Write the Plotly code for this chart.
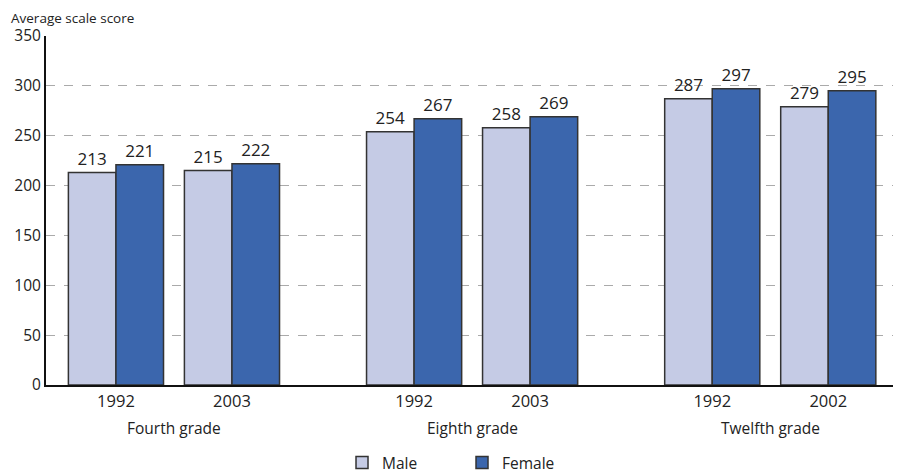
import plotly.graph_objects as go

grades = ["Fourth grade", "Eighth grade", "Twelfth grade"]
years = [["1992", "2003"], ["1992", "2003"], ["1992", "2002"]]
male = [213, 215, 254, 258, 287, 279]
female = [221, 222, 267, 269, 297, 295]

# page body adds an 8px offset; size figure so it fills the 901x475 window
OFF = 8
W, H = 901 - OFF, 475 - OFF
ML, MR, MT, MB = 46 - OFF, 0, 36 - OFF, 90
PH = H - MT - MB


def py(pix):
    """convert window pixel y (from top) to paper coordinate"""
    return (H - MB - (pix - OFF)) / PH


GRADE_STEP = 2.57
xs, ticktext = [], []
for g, yrs in enumerate(years):
    for j, yr in enumerate(yrs):
        xs.append(g * GRADE_STEP + j)
        ticktext.append(yr)

font = "Open Sans"
fig = go.Figure()
fig.add_bar(x=xs, y=male, name="Male", marker=dict(color="#C5CBE5", line=dict(color="#333333", width=1.5)),
            text=[str(v) for v in male], textposition="outside", cliponaxis=False,
            textfont=dict(size=17, color="#222222"))
fig.add_bar(x=xs, y=female, name="Female", marker=dict(color="#3B66AD", line=dict(color="#333333", width=1.5)),
            text=[str(v) for v in female], textposition="outside", cliponaxis=False,
            textfont=dict(size=17, color="#222222"))

for g, name in enumerate(grades):
    fig.add_annotation(x=g * GRADE_STEP + 0.5, y=py(428), xref="x", yref="paper", text=name,
                       showarrow=False, font=dict(size=15.5, color="#222222"), yanchor="middle")

fig.add_annotation(x=0, y=py(OFF), xref="paper", yref="paper", xshift=-(ML - 2),
                   text="Average scale score", showarrow=False, xanchor="left", yanchor="top",
                   font=dict(size=13.5, color="#222222"), borderpad=0)

fig.update_layout(
    width=W, height=H, barmode="group", bargap=0.18, bargroupgap=0,
    margin=dict(l=ML, r=MR, t=MT, b=MB),
    plot_bgcolor="white", paper_bgcolor="white",
    font=dict(family=font, color="#222222"),
    showlegend=True,
    legend=dict(orientation="h", x=0.5 - 12 / W, xanchor="center", y=(H - (463 - OFF)) / H, yanchor="middle",
                yref="container", font=dict(size=15.5), entrywidth=75, traceorder="normal"),
    xaxis=dict(range=[-0.603, 6.767], tickvals=xs, ticktext=ticktext, showgrid=False,
               showline=True, linecolor="#111111", linewidth=2, ticks="", tickfont=dict(size=16.5),
               zeroline=False, automargin=False),
    yaxis=dict(range=[0, 350], dtick=50, showgrid=True, gridcolor="#AAAAAA", griddash="dash",
               gridwidth=1, showline=True, linecolor="#111111", linewidth=2, ticks="",
               tickfont=dict(size=15.5), zeroline=False, automargin=False),
)
fig.write_html("out.html")
